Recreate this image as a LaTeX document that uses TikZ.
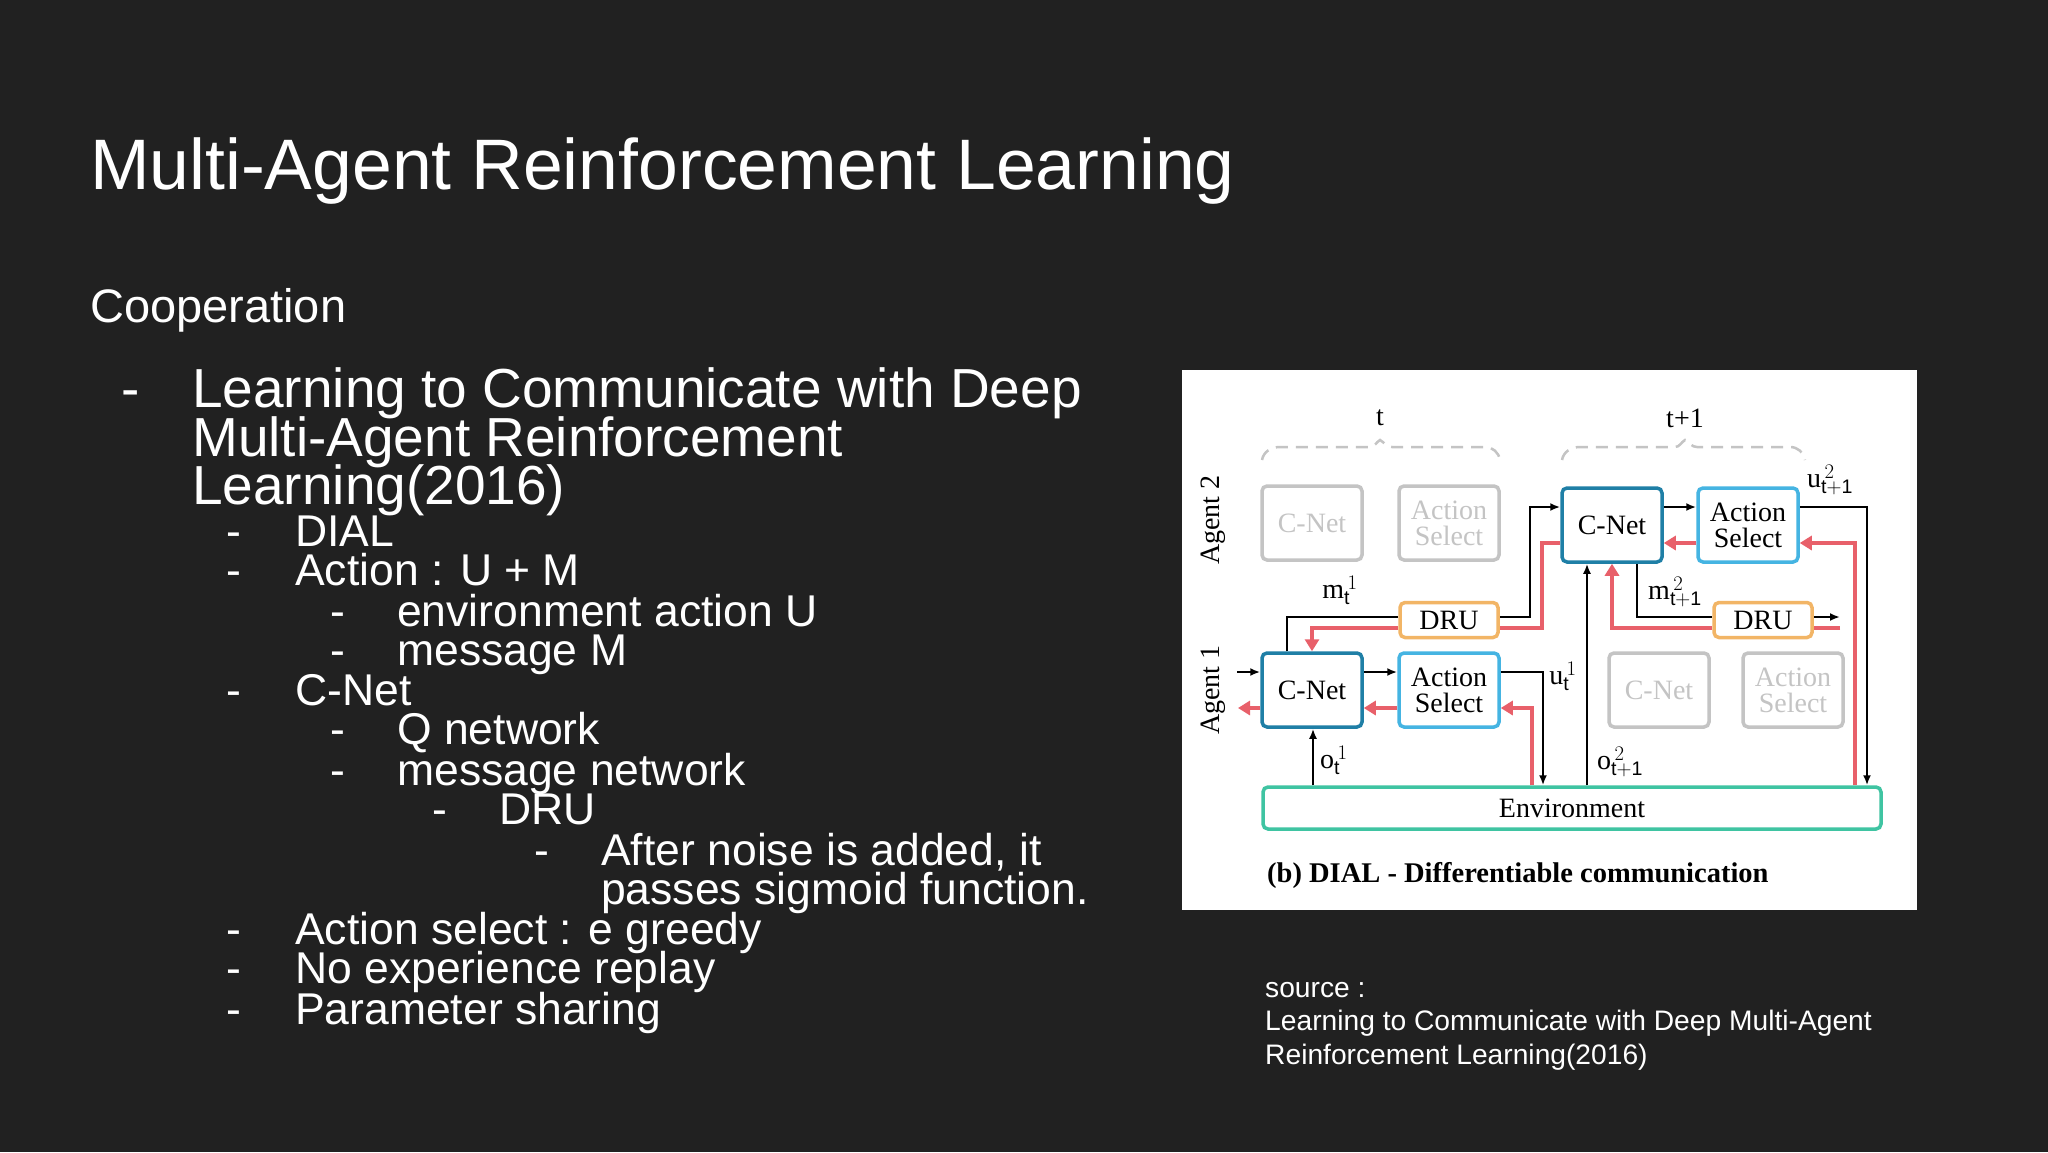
\documentclass[tikz,border=0pt]{standalone}
\usepackage{fontspec}
\setmainfont{Liberation Sans}
\newfontfamily\serifd{Liberation Serif}
\usetikzlibrary{arrows.meta}
\definecolor{bg}{HTML}{212121}
\definecolor{cnb}{HTML}{1F7FA6}
\definecolor{asb}{HTML}{45B4E2}
\definecolor{drub}{HTML}{F2B566}
\definecolor{envb}{HTML}{3FC4A2}
\definecolor{rd}{HTML}{E8606A}
\definecolor{gb}{HTML}{C4C4C4}
\tikzset{
 txt/.style={anchor=base west,text=white,inner sep=0pt},
 lvl/.style={txt,font=\fontsize{44.5}{44.5}\selectfont},
 box/.style={draw,line width=3.5pt,rounded corners=5pt,minimum width=100pt,minimum height=74pt,align=center,inner sep=0pt,font=\serifd\fontsize{28}{26}\selectfont},
 cnet/.style={box,draw=cnb},
 asel/.style={box,draw=asb},
 gray/.style={box,draw=gb,text=gb},
 drubox/.style={box,draw=drub,minimum width=98pt,minimum height=35pt},
 blk/.style={draw=black,line width=2pt},
 blka/.style={blk,-{Latex[length=10pt,width=8pt]}},
 red/.style={draw=rd,line width=4pt},
 reda/.style={red,-{Triangle[length=12pt,width=14pt]}},
 lab/.style={font=\serifd\fontsize{28}{28}\selectfont,inner sep=0pt}
}
\begin{document}
\begin{tikzpicture}[x=1pt,y=-1pt]
\fill[bg] (0,0) rectangle (2048,1152);
\useasboundingbox (0,0) rectangle (2048,1152);
\node[txt,font=\fontsize{71.5}{71.5}\selectfont] (title) at (90,189) {Multi-Agent Reinforcement Learning};
\node[txt,font=\fontsize{47}{47}\selectfont] (coop) at (90,322) {Cooperation};
\node[txt,font=\fontsize{55}{55}\selectfont] (d0) at (121,407) {-};
\node[txt,font=\fontsize{55}{55}\selectfont] (t0a) at (192,407) {Learning to Communicate with Deep};
\node[txt,font=\fontsize{55}{55}\selectfont] (t0b) at (192,456) {Multi-Agent Reinforcement};
\node[txt,font=\fontsize{55}{55}\selectfont] (t0c) at (192,504) {Learning(2016)};
\node[lvl] (d1) at (226,546) {-}; \node[lvl] (t1) at (295,546) {DIAL};
\node[lvl] (d2) at (226,585) {-}; \node[lvl] (t2) at (295,585) {Action : U + M};
\node[lvl] (d3) at (330,626) {-}; \node[lvl] (t3) at (397,626) {environment action U};
\node[lvl] (d4) at (330,665) {-}; \node[lvl] (t4) at (397,665) {message M};
\node[lvl] (d5) at (226,705) {-}; \node[lvl] (t5) at (295,705) {C-Net};
\node[lvl] (d6) at (330,744) {-}; \node[lvl] (t6) at (397,744) {Q network};
\node[lvl] (d7) at (330,785) {-}; \node[lvl] (t7) at (397,785) {message network};
\node[lvl] (d8) at (432,824) {-}; \node[lvl] (t8) at (499,824) {DRU};
\node[lvl] (d9) at (534,865) {-}; \node[lvl] (t9) at (601,865) {After noise is added, it};
\node[lvl] (t9b) at (601,904) {passes sigmoid function.};
\node[lvl] (d10) at (226,944) {-}; \node[lvl] (t10) at (295,944) {Action select : e greedy};
\node[lvl] (d11) at (226,983) {-}; \node[lvl] (t11) at (295,983) {No experience replay};
\node[lvl] (d12) at (226,1024) {-}; \node[lvl] (t12) at (295,1024) {Parameter sharing};
\node[txt,font=\fontsize{28.2}{33.5}\selectfont,align=left,anchor=north west] (src) at (1265,982) {source :\\Learning to Communicate with Deep Multi-Agent\\Reinforcement Learning(2016)};
% diagram
\fill[white] (1182,370) rectangle (1917,910);
\node[lab] (tl) at (1380,418) {t};
\node[lab] (tl2) at (1685,418) {t+1};
\draw[gb,line width=2.5pt,dash pattern=on 12pt off 8pt] (1262,460) to[out=80,in=180] (1280,447) -- (1370,447) to[out=0,in=-150] (1380,440) to[out=-30,in=180] (1392,447) -- (1485,447) to[out=0,in=100] (1500,460);
\draw[gb,line width=2.5pt,dash pattern=on 12pt off 8pt] (1562,460) to[out=80,in=180] (1580,447) -- (1675,447) to[out=0,in=-150] (1685,440) to[out=-30,in=180] (1697,447) -- (1790,447) to[out=0,in=100] (1805,460);
\node[lab,rotate=90] (ag2) at (1213,520) {Agent 2};
\node[lab,rotate=90] (ag1) at (1213,690) {Agent 1};
\node[gray] (gcn2) at (1312,523) {C-Net};
\node[gray] (gas2) at (1449,523) {Action\\Select};
\node[cnet] (cn1) at (1312,690) {C-Net};
\node[asel] (as1) at (1449,690) {Action\\Select};
\node[drubox] (dru1) at (1449,620) {DRU};
\node[cnet] (cn2) at (1612,525) {C-Net};
\node[asel] (as2) at (1748,525) {Action\\Select};
\node[drubox] (dru2) at (1763,620) {DRU};
\node[gray] (gcn1) at (1659,690) {C-Net};
\node[gray] (gas1) at (1793,690) {Action\\Select};
\node[box,draw=envb,minimum width=618pt,minimum height=42pt] (env) at (1572,808) {Environment};
\node[lab,anchor=base west,font=\serifd\bfseries\fontsize{28.5}{28}\selectfont] (cap) at (1267,882) {(b) DIAL - Differentiable communication};
% agent 1
\coordinate (in1) at (1237,672);
\coordinate (out1) at (1238,708);
\draw[blka] (in1) -- (cn1.west |- in1);
\draw[reda] (cn1.west |- out1) -- (out1);
\draw[blka] (cn1.east |- 0,672) -- (as1.west |- 0,672);
\draw[reda] (as1.west |- 0,708) -- (cn1.east |- 0,708);
\draw[blk] (cn1.north -| 1287,0) |- (dru1.west |- 0,617);
\draw[reda] (dru1.west |- 0,628) -| (cn1.north -| 1312,0);
\draw[blka] (dru1.east |- 0,617) -- (1530,617) |- (cn2.west |- 0,507);
\draw[red] (cn2.west |- 0,543) -- (1542,543) |- (dru1.east |- 0,628);
\draw[blka] (as1.east |- 0,672) -| (env.north -| 1543,0);
\draw[reda] (env.north -| 1532,0) |- (as1.east |- 0,708);
\draw[blka] (env.north -| 1313,0) -- (cn1.south -| 1313,0);
\node[lab,anchor=west] (o1) at (1320,760) {o$^{\,1}_{\mathrm{t}}$};
\node[lab] (m1) at (1340,590) {m$^{\,1}_{\mathrm{t}}$};
\node[lab] (u1) at (1563,676) {u$^{\,1}_{\mathrm{t}}$};
% agent 2
\draw[blka] (cn2.east |- 0,507) -- (as2.west |- 0,507);
\draw[reda] (as2.west |- 0,543) -- (cn2.east |- 0,543);
\draw[blka] (env.north -| 1587,0) -- (cn2.south -| 1587,0);
\draw[blk] (cn2.south -| 1637,0) |- (dru2.west |- 0,617);
\draw[blka] (dru2.east |- 0,617) -- (1840,617);
\draw[red] (1840,628) -- (dru2.east |- 0,628);
\draw[reda] (dru2.west |- 0,628) -| (cn2.south -| 1612,0);
\draw[blka] (as2.east |- 0,507) -| (env.north -| 1867,0);
\draw[reda] (env.north -| 1855,0) |- (as2.east |- 0,543);
\node[lab] (u2) at (1830,480) {u$^{\,2}_{\mathrm{t+1}}$};
\node[lab] (m2) at (1675,592) {m$^{\,2}_{\mathrm{t+1}}$};
\node[lab] (o2) at (1620,762) {o$^{\,2}_{\mathrm{t+1}}$};
\end{tikzpicture}
\end{document}
